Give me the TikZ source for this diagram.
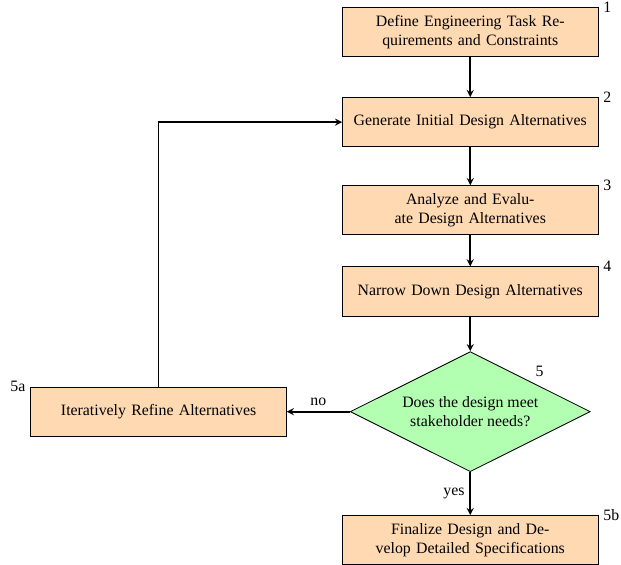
\documentclass[tikz,border=0pt]{standalone}
\usepackage{fontspec}
\setmainfont{Liberation Serif}
\usetikzlibrary{positioning,shapes.geometric,arrows}

\tikzset{
    process/.style={rectangle, draw=black, semithick, fill=orange!30, text width=6cm,
        minimum height=1.2cm, align=center},
    decision/.style={diamond, aspect=2, draw=black, semithick, fill=green!30, align=center,
        minimum width=5.86cm, minimum height=2.93cm},
    arrow/.style={very thick, ->, >=stealth}
}

\begin{document}
\begin{tikzpicture}[font=\fontsize{11}{13.6}\selectfont, node distance=1cm]
    \useasboundingbox (0,0) rectangle (15.16,-13.79);
    \node[process] (1) at (11.48,-0.78) {Define Engineering Task Re-\\quirements and Constraints};
    \node[process, below=0.98cm of 1] (2) {Generate Initial Design Alternatives};
    \node[process, below=0.93cm of 2] (3) {Analyze and Evalu-\\ate Design Alternatives};
    \node[process, below=0.76cm of 3] (4) {Narrow Down Design Alternatives};
    \node[decision, below=0.85cm of 4] (5) {Does the design meet\\stakeholder needs?};
    \node[process, left=1.54cm of 5] (5a) {Iteratively Refine Alternatives};
    \node[process, below=1.05cm of 5] (5b) {Finalize Design and De-\\velop Detailed Specifications};
    \foreach \n in {1,2,3,4,5b}
        \node[right] at (\n.north east) {\n};
    \node[left] at (5a.north west) {5a};
    \node[above right] at (5.north east) {5};
    \draw[arrow] (1) -- (2);
    \draw[arrow] (2) -- (3);
    \draw[arrow] (3) -- (4);
    \draw[arrow] (4) -- (5);
    \draw[arrow] (5) -- node[above] {no} (5a);
    \draw[arrow] (5) -- node[left] {yes} (5b);
    \draw[arrow] (5a.north) |- (2.west);
\end{tikzpicture}
\end{document}
